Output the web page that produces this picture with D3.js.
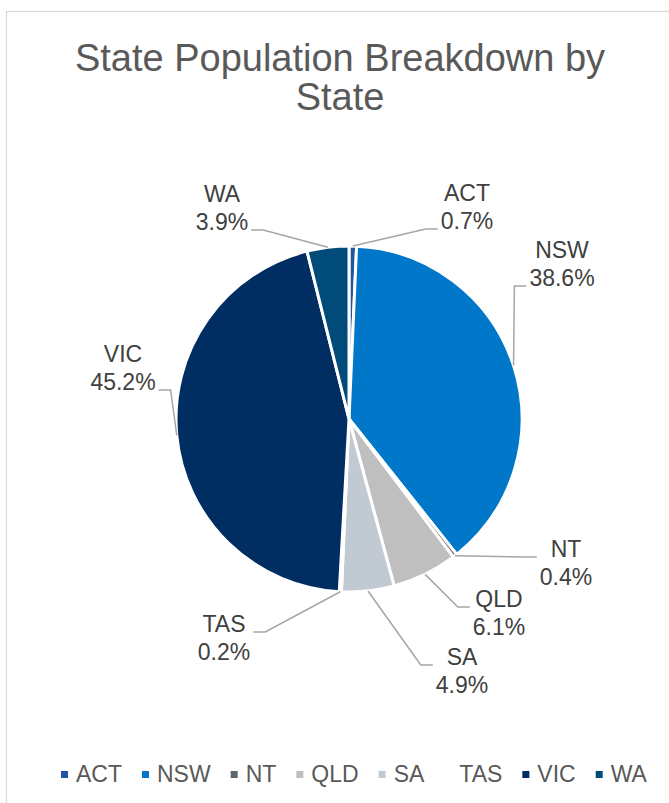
<!DOCTYPE html>
<html>
<head>
<meta charset="utf-8">
<script src="https://cdn.jsdelivr.net/npm/d3@7"></script>
<style>
  html, body { margin: 0; padding: 0; background: #ffffff; }
  svg { display: block; }
</style>
</head>
<body>
<svg id="chart" width="669" height="803"></svg>
<script>
// ---- data ----
const categories = ["ACT", "NSW", "NT", "QLD", "SA", "TAS", "VIC", "WA"];
const shares = [0.7, 38.6, 0.4, 6.1, 4.9, 0.2, 45.2, 3.9];
const sliceColors = ["#1F55A5", "#0077C8", "#5B6770", "#BFBFBF", "#C1CAD3", "#FFFFFF", "#002D62", "#004B79"];
const titleLines = ["State Population Breakdown by", "State"];

// ---- layout (label placement relative to pie centre, as Excel's best-fit put them) ----
const labelOffsets = [[118, -212], [213, -155], [217, 144], [150, 194], [113, 252], [-125, 219], [-226, -51], [-127, -211]];

const W = 669, H = 803;
const cx = 349, cy = 419, R = 173;
const svg = d3.select("#chart");
const FONT = "'Liberation Sans', Arial, sans-serif";

// frame
svg.append("rect").attr("x", 6.5).attr("y", 11.5).attr("width", 700).attr("height", 820)
  .attr("fill", "#fff").attr("stroke", "#D9D9D9").attr("stroke-width", 1.2);

// title
svg.append("text").attr("x", 340).attr("y", 71).attr("text-anchor", "middle")
  .attr("font-family", FONT).attr("font-size", 38).attr("fill", "#595959")
  .selectAll("tspan").data(titleLines).join("tspan")
  .attr("x", 340).attr("dy", (d, i) => i === 0 ? 0 : 39).text(d => d);

const data = categories.map((c, i) => ({ name: c, value: shares[i], color: sliceColors[i], off: labelOffsets[i] }));
const pie = d3.pie().value(d => d.value).sort(null);
const arcs = pie(data);
const arc = d3.arc().innerRadius(0).outerRadius(R);
const edgeArc = d3.arc().innerRadius(R).outerRadius(R);

const g = svg.append("g").attr("transform", `translate(${cx},${cy})`);
g.selectAll("path.slice").data(arcs).join("path").attr("class", "slice")
  .attr("d", arc).attr("fill", d => d.data.color)
  .attr("stroke", "#fff").attr("stroke-width", 3).attr("stroke-linejoin", "round");

// labels
const lab = g.selectAll("g.lab").data(arcs).join("g").attr("class", "lab");
lab.each(function(d) {
  const sel = d3.select(this);
  const [lx, ly] = d.data.off;
  const t = sel.append("text").attr("text-anchor", "middle")
    .attr("font-family", FONT).attr("font-size", 23).attr("fill", "#404040");
  const t1 = t.append("tspan").attr("x", lx).attr("y", ly - 6).text(d.data.name);
  const t2 = t.append("tspan").attr("x", lx).attr("y", ly + 22).text(d3.format(".1f")(d.data.value) + "%");
  const w = Math.max(t1.node().getComputedTextLength(), t2.node().getComputedTextLength());
  const [sx, sy] = edgeArc.centroid(d);
  const right = lx > sx;
  const ex = right ? lx - w / 2 - 3 : lx + w / 2 + 3;
  const ey = Math.max(ly - 6, Math.min(ly + 22, sy));
  const bx = right ? ex - 12 : ex + 12;
  sel.insert("path", "text")
    .attr("d", d3.line()([[sx, sy], [bx, ey], [ex, ey]]))
    .attr("fill", "none").attr("stroke", "#A6A6A6").attr("stroke-width", 1.5);
});

// legend
const leg = svg.append("g");
let x = 61;
const legendItems = leg.selectAll("g.item").data(data).join("g").attr("class", "item");
legendItems.each(function(d) {
  const s = d3.select(this);
  s.append("rect").attr("x", x).attr("y", 771).attr("width", 7).attr("height", 7).attr("fill", d.color);
  const tx = s.append("text").attr("x", x + 15).attr("y", 782)
    .attr("font-family", FONT).attr("font-size", 23).attr("fill", "#595959").text(d.name);
  x += 15 + tx.node().getComputedTextLength() + 20;
});
</script>
</body>
</html>
